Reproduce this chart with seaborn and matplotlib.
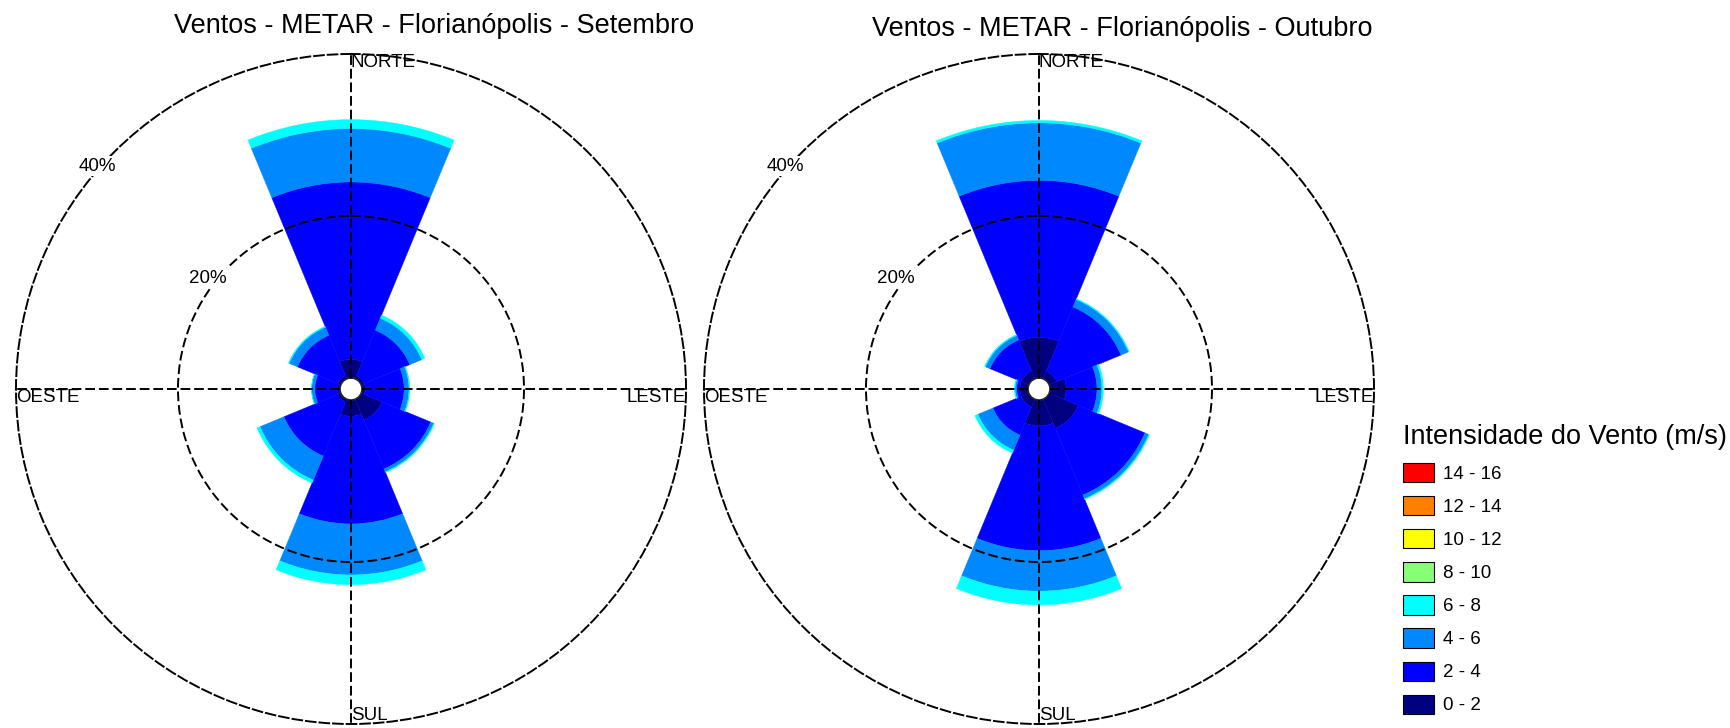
import numpy as np
import seaborn as sns
from matplotlib import pyplot as plt
from matplotlib.patches import Patch

sns.set_theme(style='white')
plt.rcParams['font.family'] = ['Liberation Sans', 'DejaVu Sans']
plt.rcParams['text.color'] = 'black'

# Directions (clockwise from north, degrees)
directions = ['N', 'NE', 'E', 'SE', 'S', 'SW', 'W', 'NW']
angles = [0, 45, 90, 135, 180, 225, 270, 315]

# Speed classes (m/s)
classes = ['0 - 2', '2 - 4', '4 - 6', '6 - 8', '8 - 10', '10 - 12', '12 - 14', '14 - 16']
colors = ['#000080', '#0000FF', '#0088FF', '#00FFFF', '#88FF77', '#FFFF00', '#FF7F00', '#FF0000']

# Frequency (%) per direction for each speed class - September
set_0_2 = [2.3, 0.4, 0.4, 2.8, 2.0, 0.4, 0.3, 0.4]
set_2_4 = [21.9, 6.1, 4.8, 6.5, 13.3, 7.2, 2.8, 5.4]
set_4_6 = [6.6, 1.6, 0.6, 0.4, 6.3, 3.2, 0.4, 1.1]
set_6_8 = [1.1, 0.4, 0.1, 0.1, 1.2, 0.4, 0.0, 0.1]

# October
out_0_2 = [5.0, 1.0, 2.0, 3.9, 3.2, 1.0, 1.0, 1.0]
out_2_4 = [19.4, 8.6, 3.8, 8.9, 15.4, 3.8, 0.4, 4.2]
out_4_6 = [7.1, 1.0, 0.6, 0.5, 5.0, 2.0, 0.2, 0.6]
out_6_8 = [0.3, 0.1, 0.2, 0.1, 1.7, 0.4, 0.1, 0.1]

titles = ['Ventos - METAR - Florianópolis - Setembro',
          'Ventos - METAR - Florianópolis - Outubro']

W, H = 1731, 728
fig = plt.figure(figsize=(W / 100, H / 100), dpi=100)
dash = (0, (5, 2))


def rose(ax, series):
    theta = np.deg2rad(angles)
    bottom = np.zeros(len(angles))
    for vals, c in zip(series, colors):
        ax.bar(theta, vals, width=np.deg2rad(45), bottom=bottom, color=c,
               edgecolor=c, linewidth=0.3, align='center', zorder=1)
        bottom = bottom + np.array(vals)
    ax.set_theta_zero_location('N')
    ax.set_theta_direction(-1)
    ax.set_rorigin(-1.36)
    ax.set_ylim(0, 40)
    ax.set_rgrids([20], labels=[''])
    ax.set_thetagrids([0, 90, 180, 270], labels=['', '', '', ''])
    ax.grid(True, color='black', linestyle=dash, linewidth=1.4)
    ax.set_axisbelow(False)
    ax.spines['polar'].set_linestyle(dash)
    ax.spines['polar'].set_linewidth(1.4)
    ax.spines['polar'].set_color('black')
    ax.set_facecolor('white')
    fs = 13.5
    ax.text(0, 40, 'NORTE', ha='left', va='top', fontsize=fs, zorder=5)
    ax.text(np.pi, 40, 'SUL', ha='left', va='bottom', fontsize=fs, zorder=5)
    ax.text(np.pi / 2, 40, 'LESTE', ha='right', va='top', fontsize=fs, zorder=5)
    ax.text(3 * np.pi / 2, 40, 'OESTE', ha='left', va='top', fontsize=fs, zorder=5)
    ax.text(np.deg2rad(311.3), 40.3, '40%', ha='center', va='center', fontsize=fs,
            zorder=5, bbox=dict(fc='white', ec='none', pad=1))
    ax.text(np.deg2rad(307.7), 21.0, '20%', ha='center', va='center', fontsize=fs,
            zorder=5, bbox=dict(fc='white', ec='none', pad=1))


ax1 = fig.add_axes([16 / W, 4 / H, 670 / W, 670 / H], projection='polar')
rose(ax1, [set_0_2, set_2_4, set_4_6, set_6_8])
ax2 = fig.add_axes([704 / W, 4 / H, 670 / W, 670 / H], projection='polar')
rose(ax2, [out_0_2, out_2_4, out_4_6, out_6_8])

fig.text(434 / W, 1 - 26 / H, titles[0], ha='center', va='center', fontsize=19.5)
fig.text(1122 / W, 1 - 29 / H, titles[1], ha='center', va='center', fontsize=19.5)

handles = [Patch(facecolor=c, edgecolor='black', linewidth=0.8) for c in colors[::-1]]
leg = fig.legend(handles, classes[::-1], title='Intensidade do Vento (m/s)',
                 loc='upper left', bbox_to_anchor=(1403 / W, 1 - 424 / H),
                 frameon=False, fontsize=13.5, title_fontsize=19.5,
                 handlelength=1.66, handleheight=1.2, labelspacing=0.7,
                 handletextpad=0.45, borderaxespad=0, borderpad=0,
                 alignment='left')

fig.savefig('out.png', dpi=100, facecolor='white')
